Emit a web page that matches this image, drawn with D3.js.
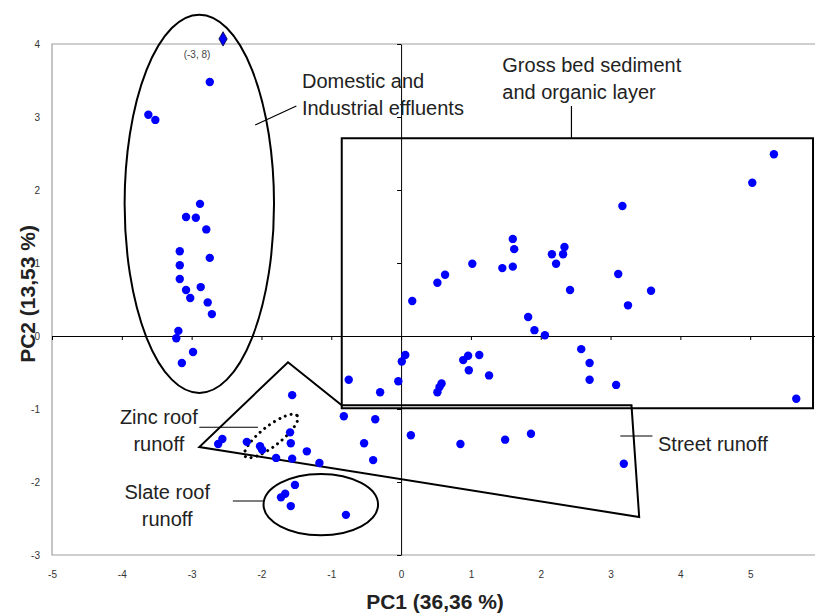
<!DOCTYPE html>
<html>
<head>
<meta charset="utf-8">
<script src="https://cdn.jsdelivr.net/npm/d3@7"></script>
<style>
  body { margin: 0; background: #fff; }
  text { font-family: "Liberation Sans", Arial, sans-serif; }
</style>
</head>
<body>
<div id="viz-container"></div>
<script>
// PCA scores
let pc1 = [-2.74,-3.62,-3.52,-2.88,-3.08,-2.94,-2.79,-3.17,-2.74,-3.17,-3.17,-3.08,-2.87,-3.02,-2.77,-2.71,-3.19,-3.22,-2.98,-3.14,
  -1.56,-2.56,-2.62,-2.21,-2.02,-1.99,-1.79,-1.59,-1.58,-1.35,-1.56,-1.17,-0.82,-0.37,-0.53,-0.40,
  -1.52,-1.66,-1.72,-1.58,-0.79,
  -0.75,-0.30,-0.04,0.01,0.06,0.89,0.96,1.12,0.97,1.26,0.58,0.55,0.52,2.58,2.70,2.70,3.08,5.66,0.14,0.85,1.49,1.86,3.19,
  5.34,5.03,3.17,1.60,1.62,1.02,1.45,1.60,2.16,2.32,2.34,2.22,3.11,3.58,2.42,3.25,0.63,0.52,0.16,1.82,1.91,2.06];
let pc2 = [3.48,3.03,2.96,1.81,1.63,1.62,1.46,1.16,1.07,0.97,0.78,0.63,0.67,0.52,0.46,0.30,0.07,-0.03,-0.22,-0.37,
  -0.81,-1.41,-1.48,-1.45,-1.51,-1.56,-1.67,-1.32,-1.47,-1.58,-1.68,-1.74,-1.10,-1.14,-1.47,-1.70,
  -2.04,-2.16,-2.21,-2.33,-2.45,
  -0.60,-0.77,-0.62,-0.35,-0.26,-0.33,-0.27,-0.26,-0.47,-0.54,-0.65,-0.70,-0.77,-0.18,-0.37,-0.60,-0.67,-0.86,-1.36,-1.48,-1.42,-1.34,-1.75,
  2.49,2.10,1.78,1.33,1.19,0.99,0.93,0.95,1.12,1.12,1.22,0.99,0.85,0.62,0.63,0.42,0.84,0.73,0.48,0.26,0.08,0.01];
// off-scale sample drawn at the top edge, real score (-3, 8)
let outlier = [-2.55, 4.07];
let outlierLabel = "(-3, 8)";

let xTicks = [-5,-4,-3,-2,-1,0,1,2,3,4,5];
let yTicks = [-3,-2,-1,0,1,2,3,4];

let w = 815, h = 616;
let viz = d3.select("#viz-container").append("svg")
    .attr("width", w).attr("height", h);

let xScale = d3.scaleLinear().domain([-5, 6]).range([52, 820]);
let yScale = d3.scaleLinear().domain([-3, 4]).range([555, 44]);
let plainNum = d => String(d);

// plot area frame (grey)
viz.append("path")
    .attr("d", "M" + 820 + "," + yScale(4) + "H" + xScale(-5) + "V" + yScale(-3) + "H" + 820)
    .attr("fill", "none").attr("stroke", "#a0a0a0").attr("stroke-width", 1.2);

// zero axes with ticks
viz.append("g")
    .attr("transform", "translate(0," + yScale(0) + ")")
    .call(d3.axisBottom(xScale).tickValues(xTicks).tickSize(4).tickFormat("").tickSizeOuter(0));
viz.append("g")
    .attr("transform", "translate(" + xScale(0) + ",0)")
    .call(d3.axisLeft(yScale).tickValues(yTicks).tickSize(4).tickFormat("").tickSizeOuter(0));
viz.selectAll(".domain").attr("stroke", "#000");
viz.selectAll(".tick line").attr("stroke", "#000");

// tick labels at the low side
let xLab = viz.append("g")
    .attr("transform", "translate(0," + 568 + ")")
    .call(d3.axisBottom(xScale).tickValues(xTicks).tickSize(0).tickFormat(plainNum));
xLab.select(".domain").remove();
xLab.selectAll("text").attr("font-size", 10).attr("fill", "#333");

let yLab = viz.append("g")
    .attr("transform", "translate(" + 43 + ",0)")
    .call(d3.axisLeft(yScale).tickValues(yTicks).tickSize(0).tickFormat(plainNum));
yLab.select(".domain").remove();
yLab.selectAll("text").attr("font-size", 10).attr("fill", "#333");

// axis titles
viz.append("text").attr("x", 435).attr("y", 609)
    .attr("text-anchor", "middle").attr("font-weight", "bold").attr("font-size", 21)
    .attr("fill", "#222").text("PC1 (36,36 %)");
viz.append("text").attr("transform", "translate(35,294) rotate(-90)")
    .attr("text-anchor", "middle").attr("font-weight", "bold").attr("font-size", 21)
    .attr("fill", "#222").text("PC2 (13,53 %)");

// group outlines
function ellipse(cx, cy, rx, ry){
    return viz.append("ellipse")
        .attr("cx", xScale(cx)).attr("cy", yScale(cy))
        .attr("rx", xScale(cx + rx) - xScale(cx))
        .attr("ry", yScale(cy - ry) - yScale(cy))
        .attr("fill", "none").attr("stroke", "#000").attr("stroke-width", 2);
}
ellipse(-2.89, 1.81, 1.07, 2.59);
ellipse(-1.15, -2.31, 0.82, 0.42);

let lineGen = d3.line().x(d => xScale(d[0])).y(d => yScale(d[1]));

// gross bed sediment box
viz.append("path")
    .attr("d", lineGen([[-0.85,2.71],[5.9,2.71],[5.9,-0.99],[-0.85,-0.99]]) + "Z")
    .attr("fill", "none").attr("stroke", "#000").attr("stroke-width", 2);

// street runoff polygon
viz.append("path")
    .attr("d", lineGen([[-1.62,-0.36],[-0.85,-0.95],[3.30,-0.95],[3.41,-2.48],[-2.89,-1.52]]) + "Z")
    .attr("fill", "none").attr("stroke", "#000").attr("stroke-width", 2);

// zinc roof dotted ellipse
viz.append("ellipse")
    .attr("transform", "translate(" + xScale(-1.86) + "," + yScale(-1.37) + ") rotate(-38)")
    .attr("rx", 33).attr("ry", 10)
    .attr("fill", "none").attr("stroke", "#000").attr("stroke-width", 3)
    .attr("stroke-dasharray", "0,6").attr("stroke-linecap", "round");

// leader lines
let leaders = [
    [[-2.09,2.89],[-1.50,3.15]],
    [[2.44,3.15],[2.44,2.71]],
    [[3.14,-1.37],[3.60,-1.37]],
    [[-2.89,-1.25],[-2.05,-1.25]],
    [[-2.41,-2.26],[-1.96,-2.26]]
];
leaders.forEach(function(l){
    viz.append("path").attr("d", lineGen(l))
        .attr("stroke", "#000").attr("stroke-width", 1.2).attr("fill", "none");
});

// labels
function label(x, y, lines, anchor){
    let t = viz.append("text")
        .attr("x", xScale(x)).attr("y", yScale(y))
        .attr("font-size", 20).attr("fill", "#222")
        .attr("text-anchor", anchor);
    lines.forEach(function(s, i){
        t.append("tspan").attr("x", xScale(x)).attr("dy", i == 0 ? 0 : 27).text(s);
    });
}
label(-1.42, 3.40, ["Domestic and", "Industrial effluents"], "start");
label(1.45, 3.62, ["Gross bed sediment", "and organic layer"], "start");
label(3.68, -1.58, ["Street runoff"], "start");
label(-3.47, -1.21, ["Zinc roof", "runoff"], "middle");
label(-3.35, -2.23, ["Slate roof", "runoff"], "middle");

// points
viz.selectAll(".datapoint").data(d3.range(pc1.length)).enter()
    .append("circle")
    .attr("class", "datapoint")
    .attr("cx", i => xScale(pc1[i]))
    .attr("cy", i => yScale(pc2[i]))
    .attr("r", 4.2)
    .attr("fill", "#0000ff");

viz.append("path")
    .attr("d", d3.symbol().type(d3.symbolDiamond).size(60)())
    .attr("transform", "translate(" + xScale(outlier[0]) + "," + yScale(outlier[1]) + ")")
    .attr("fill", "#0000ff").attr("stroke", "#000033").attr("stroke-width", 0.8);
viz.append("text")
    .attr("x", xScale(outlier[0]) - 26).attr("y", yScale(outlier[1]) + 19)
    .attr("text-anchor", "middle").attr("font-size", 10).attr("fill", "#444")
    .text(outlierLabel);
</script>
</body>
</html>
